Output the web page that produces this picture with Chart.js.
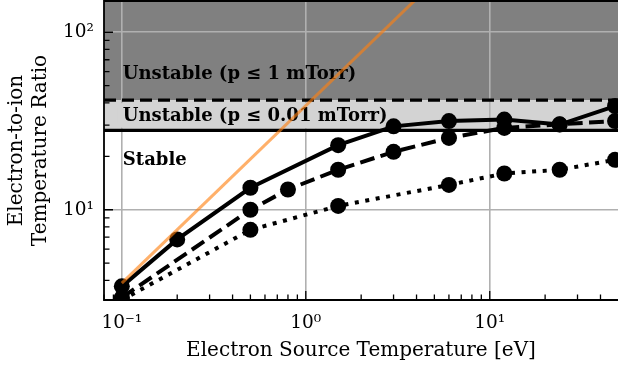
<!DOCTYPE html>
<html>
<head>
<meta charset="utf-8">
<script src="https://cdn.jsdelivr.net/npm/chart.js@4.4.0/dist/chart.umd.min.js"></script>
<style>
body{margin:0;background:#fff;}
#wrap{width:618px;height:369px;position:relative;}
</style>
</head>
<body>
<div id="wrap"><canvas id="chart"></canvas></div>
<script>
window.addEventListener("load", () => {

/* ========= DATA ========= */

const solidX = [0.1, 0.2, 0.5, 1.5, 3, 6, 12, 24, 48];
const solidY = [3.7, 6.8, 13.3, 23.1, 29.5, 31.6, 32.2, 30.2, 38.4];

const dashedX = [0.1, 0.5, 0.8, 1.5, 3, 6, 12, 24, 48];
const dashedY = [3.2, 10.0, 13.0, 16.8, 21.2, 25.4, 28.9, 30.3, 31.6];

const dottedX = [0.1, 0.5, 1.5, 6, 12, 24, 48];
const dottedY = [3.1, 7.7, 10.5, 13.8, 16.0, 16.8, 19.1];

const orangeX = [0.1, 10];
const orangeY = [3.86, 386];

// stability limits: p <= 0.01 mTorr (solid), p <= 1 mTorr (dashed)
const limitY = [28, 41.5];

const regionLabels = ["Unstable (p ≤ 1 mTorr)", "Unstable (p ≤ 0.01 mTorr)", "Stable"];
const regionLabelY = [59, 34.2, 19.5];
const regionLabelX = 0.1;

const xRange = [0.08, 49.8];
const yRange = [3.1, 150];
const xTicks = [0.1, 1, 10];
const xTickLabels = ["10⁻¹", "10⁰", "10¹"];
const yTicks = [10, 100];
const yTickLabels = ["10¹", "10²"];

const SERIF = "'DejaVu Serif', serif";
const pts = (xs, ys) => xs.map((x, i) => ({x: x, y: ys[i]}));


/* ========= DECORATION PLUGIN ========= */

function logTicks(ctx, scale, a, horiz){
  const lo = Math.floor(Math.log10(scale.min)), hi = Math.ceil(Math.log10(scale.max));
  for(let d = lo; d <= hi; d++){
    for(let m = 1; m < 10; m++){
      const v = m * Math.pow(10, d);
      if(v < scale.min || v > scale.max) continue;
      const p = scale.getPixelForValue(v), len = m === 1 ? 9 : 5.5;
      if(horiz){ ctx.moveTo(p, a.bottom); ctx.lineTo(p, a.bottom - len); }
      else { ctx.moveTo(a.left, p); ctx.lineTo(a.left + len, p); }
    }
  }
}

const decor = {
  id: "decor",
  beforeDraw(chart){
    const {ctx, chartArea: a, scales: {y}} = chart;
    const yLo = y.getPixelForValue(limitY[0]), yHi = y.getPixelForValue(limitY[1]);
    ctx.save();
    ctx.fillStyle = "#808080";
    ctx.fillRect(a.left, a.top, a.right - a.left, yHi - a.top);
    ctx.fillStyle = "#d3d3d3";
    ctx.fillRect(a.left, yHi, a.right - a.left, yLo - yHi);
    ctx.restore();
  },
  beforeDatasetsDraw(chart){
    const {ctx, scales: {x, y}} = chart;
    ctx.save();
    ctx.font = "bold 18px " + SERIF;
    ctx.textBaseline = "alphabetic";
    ctx.fillStyle = "#000";
    const px = x.getPixelForValue(regionLabelX) + 1;
    regionLabels.forEach((t, i) => {
      const py = y.getPixelForValue(regionLabelY[i]);
      if(i === 1){
        const w = ctx.measureText(t).width;
        ctx.fillStyle = "#d3d3d3";
        ctx.beginPath();
        ctx.roundRect(px - 5, py - 12, w + 10, 25, 5);
        ctx.fill();
        ctx.fillStyle = "#000";
      }
      ctx.fillText(t, px, py + 6.5);
    });
    ctx.restore();
  },
  afterDraw(chart){
    const {ctx, chartArea: a, scales: {x, y}} = chart;
    ctx.save();
    ctx.strokeStyle = "#000";
    ctx.lineWidth = 1.3;
    ctx.beginPath();
    logTicks(ctx, x, a, true);
    logTicks(ctx, y, a, false);
    ctx.stroke();
    ctx.lineWidth = 1.8;
    ctx.beginPath();
    ctx.moveTo(a.right + 2, a.top);
    ctx.lineTo(a.left, a.top);
    ctx.lineTo(a.left, a.bottom);
    ctx.lineTo(a.right + 2, a.bottom);
    ctx.stroke();
    ctx.restore();
  }
};


/* ========= CHART ========= */

function series(xs, ys, dash, order){
  return {
    data: pts(xs, ys),
    borderColor: "#000",
    backgroundColor: "#000",
    borderWidth: 4,
    borderDash: dash,
    pointRadius: 8,
    pointHoverRadius: 8,
    pointBorderWidth: 0,
    pointBackgroundColor: "#000",
    tension: 0,
    fill: false,
    clip: 0,
    order: order
  };
}

function hline(yv, dash, order){
  return {
    data: pts(xRange, [yv, yv]),
    borderColor: "#000",
    borderWidth: 3.2,
    borderDash: dash,
    pointRadius: 0,
    fill: false,
    clip: 0,
    order: order
  };
}

function noPad(s){
  s.paddingTop = 0; s.paddingBottom = 0; s.paddingLeft = 0; s.paddingRight = 0;
}

new Chart(document.getElementById("chart"), {
  type: "line",
  data: {
    datasets: [
      {
        data: pts(orangeX, orangeY),
        borderColor: "rgba(255,127,14,0.62)",
        borderWidth: 3,
        pointRadius: 0,
        fill: false,
        clip: 0,
        order: 0
      },
      series(solidX, solidY, [], 1),
      series(dashedX, dashedY, [14.8, 6.4], 2),
      series(dottedX, dottedY, [4, 6.6], 3),
      hline(limitY[0], [], 4),
      hline(limitY[1], [12, 6], 5)
    ]
  },
  options: {
    responsive: true,
    maintainAspectRatio: false,
    animation: false,
    events: [],
    layout: {autoPadding: false, padding: {top: 1, right: 0, left: 0, bottom: 0}},
    plugins: {legend: {display: false}, tooltip: {enabled: false}},
    scales: {
      x: {
        type: "logarithmic",
        min: xRange[0],
        max: xRange[1],
        afterBuildTicks: s => { s.ticks = xTicks.map(v => ({value: v})); },
        afterFit: s => { s.height = 69; noPad(s); },
        grid: {color: "#b0b0b0", lineWidth: 1.6, drawTicks: false},
        border: {display: false},
        ticks: {
          autoSkip: false, maxRotation: 0, padding: 12, color: "#000",
          font: {family: SERIF, size: 18.5},
          callback: (v, i) => xTickLabels[i]
        },
        title: {
          display: true, text: "Electron Source Temperature [eV]", color: "#000",
          font: {family: SERIF, size: 20}, padding: {top: 0, bottom: 6}
        }
      },
      y: {
        type: "logarithmic",
        min: yRange[0],
        max: yRange[1],
        afterBuildTicks: s => { s.ticks = yTicks.map(v => ({value: v})); },
        afterFit: s => { s.width = 104; noPad(s); },
        grid: {color: "#b0b0b0", lineWidth: 1.6, drawTicks: false},
        border: {display: false},
        ticks: {
          autoSkip: false, padding: 10, color: "#000",
          font: {family: SERIF, size: 18.5},
          callback: (v, i) => yTickLabels[i]
        },
        title: {
          display: true, text: ["Electron-to-ion", "Temperature Ratio"], color: "#000",
          font: {family: SERIF, size: 20}, padding: {top: 5, bottom: 0}
        }
      }
    }
  },
  plugins: [decor]
});

});
</script>
</body>
</html>
